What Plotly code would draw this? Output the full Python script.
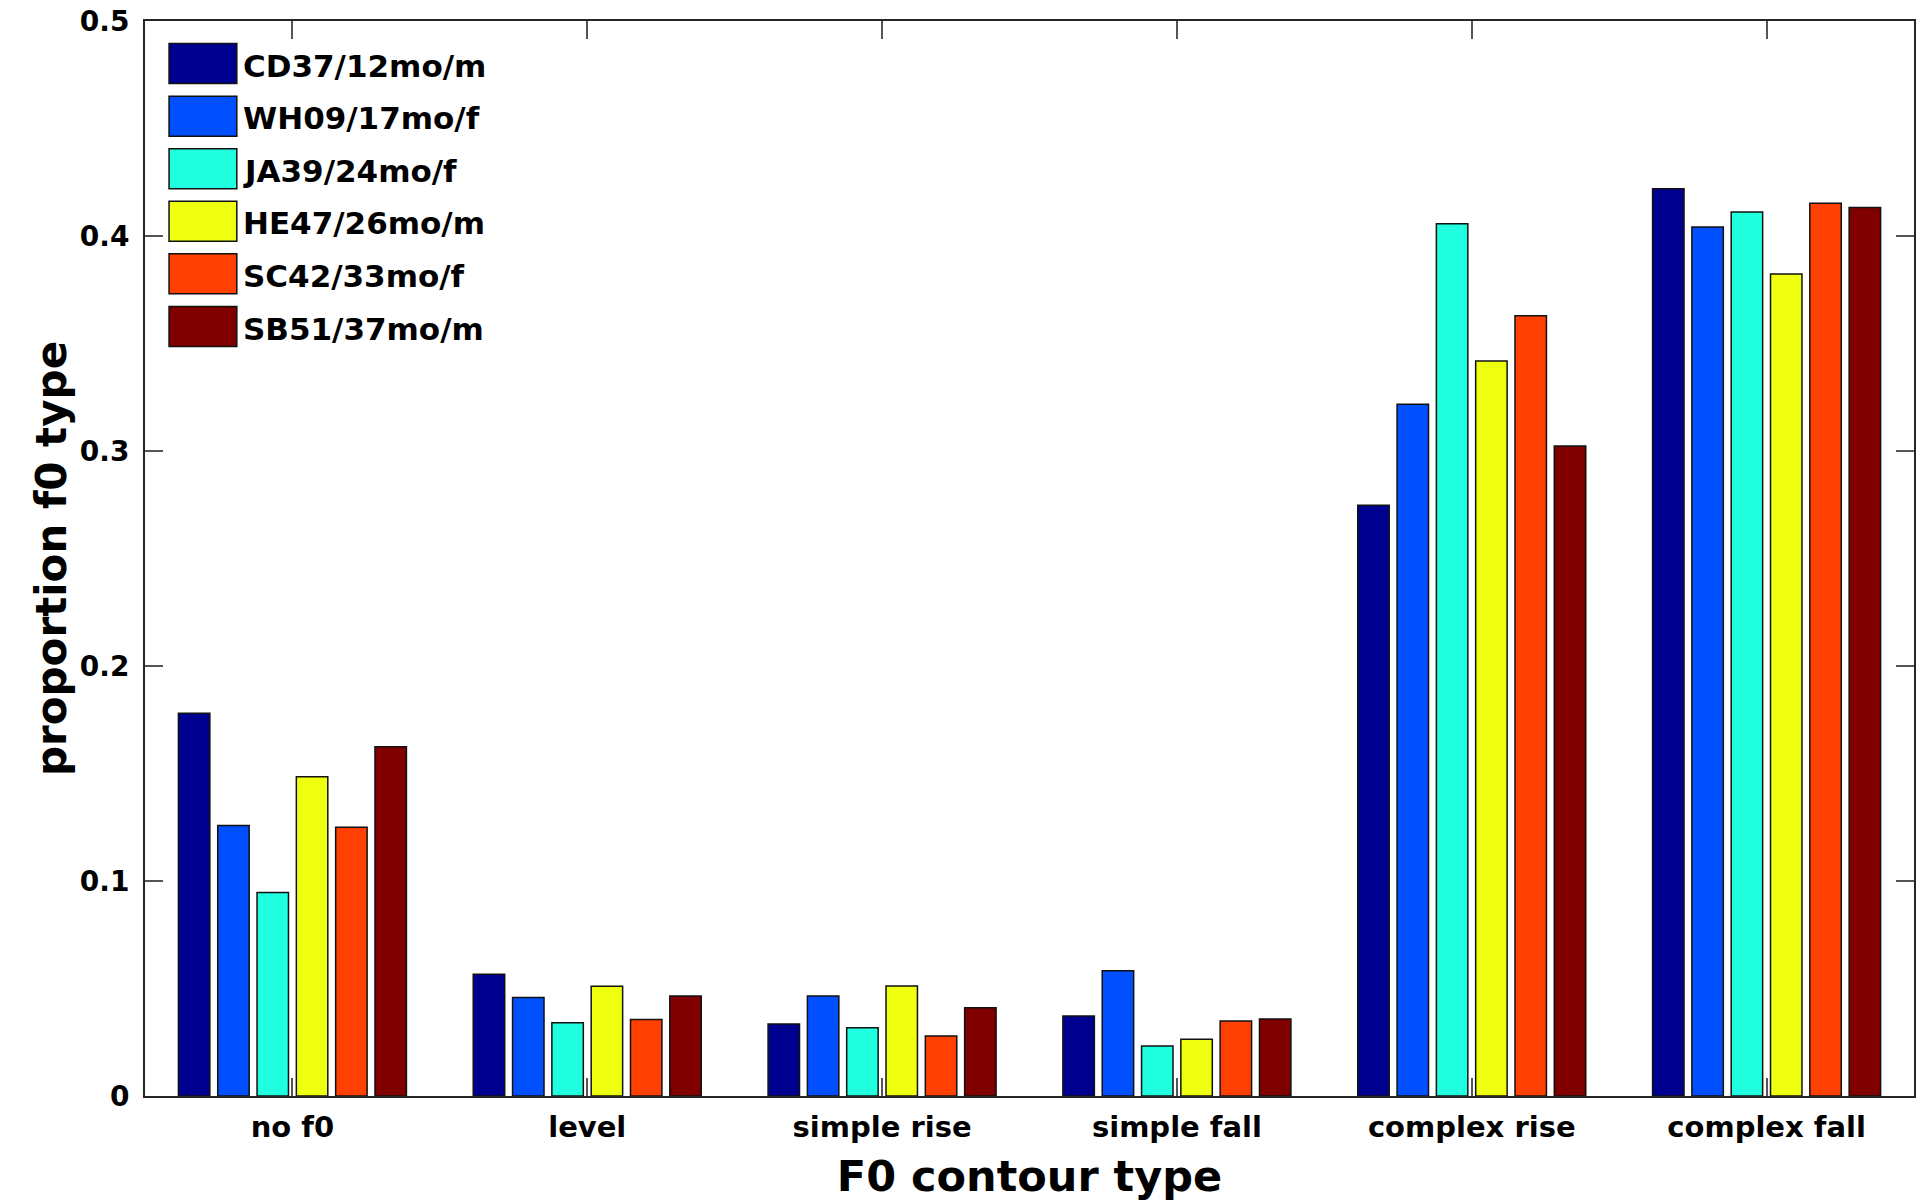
import plotly.graph_objects as go

categories = ["no f0", "level", "simple rise", "simple fall", "complex rise", "complex fall"]
series_names = ["CD37/12mo/m", "WH09/17mo/f", "JA39/24mo/f", "HE47/26mo/m", "SC42/33mo/f", "SB51/37mo/m"]
series_colors = ["#000090", "#0050FF", "#20FFDF", "#EEFF10", "#FF4000", "#800000"]

cd37 = [0.178, 0.0566, 0.0335, 0.0372, 0.2748, 0.4220]
wh09 = [0.1258, 0.0458, 0.0465, 0.0583, 0.3217, 0.4042]
ja39 = [0.0946, 0.0341, 0.0318, 0.0233, 0.4057, 0.4112]
he47 = [0.1485, 0.0511, 0.0512, 0.0264, 0.3419, 0.3823]
sc42 = [0.1250, 0.0356, 0.0279, 0.0349, 0.3629, 0.4152]
sb51 = [0.1625, 0.0465, 0.0411, 0.0358, 0.3023, 0.4133]
series_values = [cd37, wh09, ja39, he47, sc42, sb51]

y_ticks = [0, 0.1, 0.2, 0.3, 0.4, 0.5]
y_tick_labels = ["0", "0.1", "0.2", "0.3", "0.4", "0.5"]

FONT = "DejaVu Sans"
AX = "#262626"

fig = go.Figure()
for name, color, vals in zip(series_names, series_colors, series_values):
    fig.add_trace(go.Bar(
        x=categories, y=vals, name=name,
        marker=dict(color=color, line=dict(color="#111111", width=1.5)),
        showlegend=False,
    ))

# custom legend with large swatches (layout styling only)
leg_x0, leg_x1, leg_text_x = 0.0136, 0.0519, 0.0545
leg_top, leg_step, box_h = 0.9790, 0.0489, 0.0372
for i, (name, color) in enumerate(zip(series_names, series_colors)):
    yc = leg_top - i * leg_step - box_h / 2
    fig.add_shape(type="rect", xref="paper", yref="paper",
                  x0=leg_x0, x1=leg_x1, y0=yc - box_h / 2, y1=yc + box_h / 2,
                  fillcolor=color, line=dict(color="#111111", width=1.5))
    fig.add_annotation(x=leg_text_x, y=yc - 0.002, xref="paper", yref="paper",
                       text=f"<b>{name}</b>", showarrow=False,
                       xanchor="left", yanchor="middle",
                       font=dict(family=FONT, size=31, color="black"))

fig.update_layout(
    width=1920, height=1203, autosize=False,
    margin=dict(l=145, r=4, t=21, b=107, pad=0),
    paper_bgcolor="white", plot_bgcolor="white",
    barmode="group", bargap=0.2, bargroupgap=0.2,
    font=dict(family=FONT, color="black"),
    xaxis=dict(
        type="category", range=[-0.5, 5.5],
        showline=True, linecolor=AX, linewidth=2, mirror="ticks",
        ticks="inside", ticklen=18, tickwidth=2, tickcolor="#555555",
        tickfont=dict(family=FONT, size=29, color="black", weight="bold"),
        showgrid=False, zeroline=False, layer="below traces",
        ticklabelstandoff=4,
        title=dict(text="<b>F0 contour type</b>", font=dict(family=FONT, size=43, color="black"), standoff=18),
    ),
    yaxis=dict(
        range=[0, 0.5], tickvals=y_ticks, ticktext=y_tick_labels,
        showline=True, linecolor=AX, linewidth=2, mirror="ticks",
        ticks="inside", ticklen=18, tickwidth=2, tickcolor="#555555",
        tickfont=dict(family=FONT, size=28, color="black", weight="bold"),
        showgrid=False, zeroline=False, layer="below traces",
        ticklabelstandoff=8,
        title=dict(text="<b>proportion f0 type</b>", font=dict(family=FONT, size=42, color="black"), standoff=0),
    ),
)

fig.write_html("out.html", config={"displayModeBar": False},
               post_script="document.body.style.margin='0';")
